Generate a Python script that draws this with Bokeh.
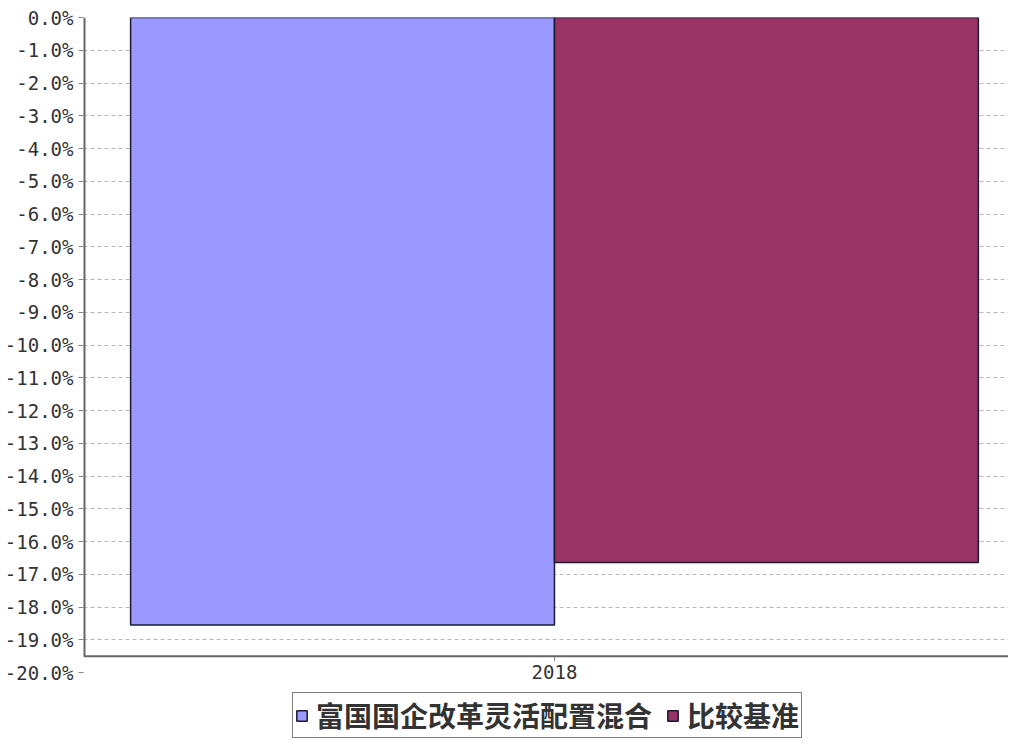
from bokeh.plotting import figure
from bokeh.models import (ColumnDataSource, Range1d, FixedTicker, PrintfTickFormatter,
                          Legend, LegendItem, Span)
from bokeh.core.properties import value
from bokeh.transform import dodge
from bokeh.embed import file_html
from bokeh.resources import INLINE

categories = ["2018"]
fund_values = [-18.55]
bench_values = [-16.64]
series_names = ["富国国企改革灵活配置混合", "比较基准"]
y_ticks = [0, -1, -2, -3, -4, -5, -6, -7, -8, -9, -10, -11, -12, -13, -14, -15, -16, -17, -18, -19, -20]
grid_ticks = y_ticks[:-1]
x_axis_level = -19.5
y_max = 0
x_start, x_end = -0.5, 0.482

# layout sizing (pixels)
W, H = 1008, 739
top_border, left_border = 17, 83
px_per_unit = 32.75
frame_h = H - top_border
y_min = y_max - frame_h / px_per_unit

src = ColumnDataSource(dict(x=list(range(len(categories))), label=categories,
                            fund=fund_values, bench=bench_values))

p = figure(width=W, height=H, output_backend="svg", toolbar_location=None,
           x_range=Range1d(x_start, x_end), y_range=Range1d(y_min, y_max),
           x_axis_location=None,
           min_border_left=left_border, min_border_right=0, min_border_top=top_border,
           min_border_bottom=0)
p.outline_line_color = None
p.background_fill_color = "white"

r1 = p.vbar(x=dodge('x', -0.225), width=0.45, top='fund', bottom=0, source=src,
            fill_color="#9999FF", line_color="#1a1a33", line_width=1.5)
r2 = p.vbar(x=dodge('x', 0.225), width=0.45, top='bench', bottom=0, source=src,
            fill_color="#993366", line_color="#1a1a33", line_width=1.5)

p.xgrid.visible = False
p.ygrid.ticker = FixedTicker(ticks=grid_ticks)
p.ygrid.grid_line_color = "#b8b8b8"
p.ygrid.grid_line_dash = "4 3"
p.ygrid.grid_line_width = 1

# axis lines: category axis sits at -19.5, value axis line stops there
p.add_layout(Span(location=x_axis_level, dimension="width", line_color="#666666", line_width=2))
p.segment(x0=[x_start], y0=[y_max], x1=[x_start], y1=[x_axis_level],
          line_color="#666666", line_width=4)

# category tick and label
src.data["axis_y"] = [x_axis_level] * len(categories)
src.data["tick_end"] = [x_axis_level - 5 / px_per_unit] * len(categories)
p.segment(x0='x', y0='axis_y', x1='x', y1='tick_end', source=src,
          line_color="#888888", line_width=1)
p.text(x='x', y='axis_y', text='label', source=src, y_offset=9,
       text_align="center", text_baseline="top", text_font=value("DejaVu Sans Mono"),
       text_font_size=value("19px"), text_color="#333333")

ya = p.yaxis[0]
ya.ticker = FixedTicker(ticks=y_ticks)
ya.formatter = PrintfTickFormatter(format="%.1f%%")
ya.minor_tick_line_color = None
ya.major_tick_in = 0
ya.major_tick_out = 5
ya.major_tick_line_color = "#888888"
ya.axis_line_color = None
ya.major_label_standoff = 5
ya.major_label_text_font = "DejaVu Sans Mono"
ya.major_label_text_font_size = "19px"
ya.major_label_text_color = "#333333"

legend = Legend(items=[LegendItem(label=series_names[0], renderers=[r1]),
                       LegendItem(label=series_names[1], renderers=[r2])],
                orientation="horizontal", location=(209, 1))
legend.border_line_color = "black"
legend.border_line_width = 1.5
legend.background_fill_color = "white"
legend.label_text_font = "Noto Sans CJK SC"
legend.label_text_font_style = "bold"
legend.label_text_font_size = "28px"
legend.label_text_color = "#333333"
legend.glyph_width = 13
legend.glyph_height = 13
legend.spacing = 14
legend.label_standoff = 8
legend.padding = 2
legend.margin = 0
p.add_layout(legend)

open("out.html", "w").write(file_html(p, INLINE))
